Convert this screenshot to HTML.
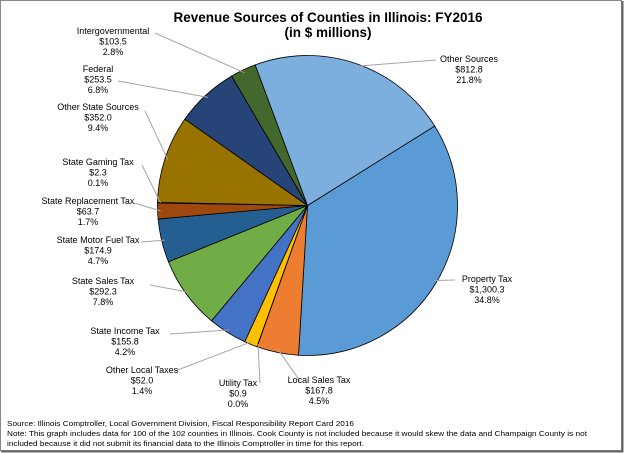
<!DOCTYPE html>
<html><head><meta charset="utf-8"><style>
html,body{margin:0;padding:0;background:#fff}
svg{display:block;font-family:"Liberation Sans",Arial,sans-serif}
</style></head><body>
<svg width="624" height="453" viewBox="0 0 624 453">
<rect x="0.5" y="0.5" width="621" height="450" fill="#fff" stroke="#888"/>
<line x1="622.5" y1="1" x2="622.5" y2="452" stroke="#666" stroke-width="2"/>
<line x1="1" y1="451.5" x2="623" y2="451.5" stroke="#666" stroke-width="2"/>
<text x="328" y="22" text-anchor="middle" font-size="13.5" font-weight="bold">Revenue Sources of Counties in Illinois: FY2016</text>
<text x="328" y="37" text-anchor="middle" font-size="13.5" font-weight="bold">(in $ millions)</text>
<g id="pie"></g>
<g id="leaders"></g>
<g id="labels" font-size="9" fill="#000"></g>
<text x="7" y="426" font-size="7.5" textLength="347" lengthAdjust="spacingAndGlyphs">Source: Illinois Comptroller, Local Government Division, Fiscal Responsibility Report Card 2016</text>
<text x="7" y="436" font-size="7.5" textLength="580" lengthAdjust="spacingAndGlyphs">Note: This graph includes data for 100 of the 102 counties in Illinois. Cook County is not included because it would skew the data and Champaign County is not</text>
<text x="7" y="446" font-size="7.5" textLength="357" lengthAdjust="spacingAndGlyphs">included because it did not submit its financial data to the Illinois Comptroller in time for this report.</text>
</svg>
<script>
const categories=["Property Tax","Local Sales Tax","Utility Tax","Other Local Taxes","State Income Tax","State Sales Tax","State Motor Fuel Tax","State Replacement Tax","State Gaming Tax","Other State Sources","Federal","Intergovernmental","Other Sources"];
const values=[1300.3,167.8,0.9,52.0,155.8,292.3,174.9,63.7,2.3,352.0,253.5,103.5,812.8];
const valueLabels=["$1,300.3","$167.8","$0.9","$52.0","$155.8","$292.3","$174.9","$63.7","$2.3","$352.0","$253.5","$103.5","$812.8"];
const percentLabels=["34.8%","4.5%","0.0%","1.4%","4.2%","7.8%","4.7%","1.7%","0.1%","9.4%","6.8%","2.8%","21.8%"];
const colors=["#5B9BD5","#ED7D31","#A5A5A5","#FFC000","#4472C4","#70AD47","#255E91","#9E480E","#636363","#997300","#264478","#43682B","#7CAFDD"];
const labelPos=[[487,282],[319,383],[238,386],[142,373],[125,334],[103,284],[98,243],[88,204],[98,165],[98,110],[98,72],[113,34],[469,62]];
const leaderStart=[[455,280],[300,381],[260,383],[175,371],[170,334],[150,285],[141,242],[134,203],[142,165],[145,111],[118,81],[155,33],[436,60]];
const cx=307.5,cy=205.5,R=150,start=58;
const NS="http://www.w3.org/2000/svg";
const total=values.reduce((a,b)=>a+b,0);
function pt(deg,r){const a=deg*Math.PI/180;return [cx+r*Math.sin(a),cy-r*Math.cos(a)];}
const pie=document.getElementById('pie'),lead=document.getElementById('leaders'),lab=document.getElementById('labels');
let ang=start;
values.forEach((v,i)=>{
 const sweep=v/total*360;
 const a0=ang,a1=ang+sweep;ang=a1;
 const p0=pt(a0,R),p1=pt(a1,R);
 const path=document.createElementNS(NS,'path');
 path.setAttribute('d',`M${cx},${cy}L${p0[0]},${p0[1]}A${R},${R} 0 ${sweep>180?1:0} 1 ${p1[0]},${p1[1]}Z`);
 path.setAttribute('fill',colors[i]);path.setAttribute('stroke','#000');path.setAttribute('stroke-width','0.8');
 
 
 pie.appendChild(path);
 const m=pt((a0+a1)/2,R-3);
 const ln=document.createElementNS(NS,'polyline');
 ln.setAttribute('points',`${leaderStart[i][0]},${leaderStart[i][1]} ${m[0]},${m[1]}`);
 ln.setAttribute('fill','none');ln.setAttribute('stroke','#a6a6a6');ln.setAttribute('stroke-width','1');
 
 
 lead.appendChild(ln);
 const t=document.createElementNS(NS,'text');
 t.setAttribute('text-anchor','middle');
 
 
 [categories[i],valueLabels[i],percentLabels[i]].forEach((s,k)=>{
  const ts=document.createElementNS(NS,'tspan');
  ts.setAttribute('x',labelPos[i][0]);ts.setAttribute('y',labelPos[i][1]+k*10.5);
  ts.textContent=s;t.appendChild(ts);
 });
 lab.appendChild(t);
});
</script>
</body></html>
